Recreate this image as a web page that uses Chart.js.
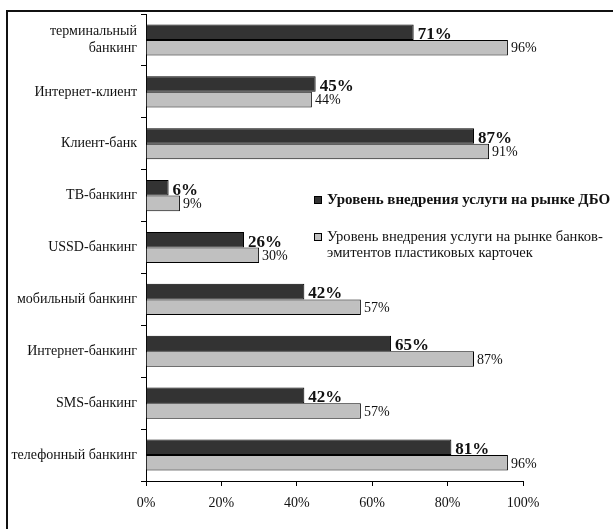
<!DOCTYPE html>
<html>
<head>
<meta charset="utf-8">
<script src="https://cdn.jsdelivr.net/npm/chart.js@4"></script>
<style>
    html, body { margin: 0; padding: 0; background: #fff; overflow: hidden; }
    #wrap { position: relative; width: 613px; height: 529px; }
    #frame { position: absolute; left: 6px; top: 10px; width: 700px; height: 600px;
             border-left: 2px solid #111; border-top: 2px solid #111; }
    #myChart { position: absolute; left: 0; top: 0; }
</style>
</head>
<body>
<div id="wrap">
    <div id="frame"></div>
    <canvas id="myChart" width="613" height="529"></canvas>
</div>
<script>
const categories = [
    ['терминальный', 'банкинг'],
    'Интернет-клиент',
    'Клиент-банк',
    'ТВ-банкинг',
    'USSD-банкинг',
    'мобильный банкинг',
    'Интернет-банкинг',
    'SMS-банкинг',
    'телефонный банкинг'
];
const dboValues = [71, 45, 87, 6, 26, 42, 65, 42, 81];
const cardBankValues = [96, 44, 91, 9, 30, 57, 87, 57, 96];
const seriesNames = [
    ['Уровень внедрения услуги на рынке ДБО'],
    ['Уровень внедрения услуги на рынке банков-', 'эмитентов пластиковых карточек']
];
const xTicks = [0, 20, 40, 60, 80, 100];

const serif = "'Liberation Serif', 'Times New Roman', serif";
const darkColor = '#333333';
const lightColor = '#c0c0c0';

// value labels next to the bars
const barLabels = {
    id: 'barLabels',
    afterDatasetsDraw(chart) {
        const ctx = chart.ctx;
        ctx.save();
        ctx.fillStyle = '#111';
        ctx.textAlign = 'left';
        chart.data.datasets.forEach((ds, i) => {
            const meta = chart.getDatasetMeta(i);
            meta.data.forEach((bar, j) => {
                const text = ds.data[j] + '%';
                if (i === 0) {
                    ctx.font = 'bold 17px ' + serif;
                    ctx.textBaseline = 'alphabetic';
                    ctx.fillText(text, bar.x + 4, bar.y + bar.height / 2 - 1);
                } else {
                    ctx.font = '14px ' + serif;
                    ctx.textBaseline = 'middle';
                    ctx.fillText(text, bar.x + 3, bar.y + 1);
                }
            });
        });
        ctx.restore();
    }
};

// legend sitting inside the plot
const innerLegend = {
    id: 'innerLegend',
    afterDraw(chart) {
        const ctx = chart.ctx;
        const x = 314, rows = [200, 237];
        ctx.save();
        chart.data.datasets.forEach((ds, i) => {
            const y = rows[i];
            ctx.fillStyle = ds.backgroundColor;
            ctx.fillRect(x, y - 4, 8, 8);
            ctx.strokeStyle = '#000';
            ctx.lineWidth = 1;
            ctx.strokeRect(x + 0.5, y - 3.5, 7, 7);
            ctx.fillStyle = '#111';
            ctx.font = (i === 0 ? 'bold 15px ' : '14.6px ') + serif;
            ctx.textBaseline = 'middle';
            ctx.textAlign = 'left';
            seriesNames[i].forEach((line, k) => {
                ctx.fillText(line, x + 13, y + k * 16);
            });
        });
        ctx.restore();
    }
};

const config = {
    type: 'bar',
    data: {
        labels: categories,
        datasets: [{
            label: seriesNames[0].join(' '),
            data: dboValues,
            backgroundColor: darkColor,
            borderColor: '#000',
            borderWidth: 1,
            categoryPercentage: 0.6,
            barPercentage: 1
        }, {
            label: seriesNames[1].join(''),
            data: cardBankValues,
            backgroundColor: lightColor,
            borderColor: '#000',
            borderWidth: 1,
            categoryPercentage: 0.6,
            barPercentage: 1
        }]
    },
    options: {
        indexAxis: 'y',
        responsive: false,
        animation: false,
        layout: {
            padding: { left: 0, right: 90, top: 14, bottom: 0 }
        },
        scales: {
            x: {
                min: 0,
                max: 100,
                afterFit: s => { s.height = 48; },
                afterBuildTicks: s => { s.ticks = xTicks.map(v => ({ value: v })); },
                grid: {
                    drawOnChartArea: false,
                    drawTicks: true,
                    tickLength: 5,
                    color: '#000'
                },
                border: { display: true, color: '#000', width: 1 },
                ticks: {
                    padding: 9,
                    color: '#111',
                    font: { family: serif, size: 14 },
                    callback: v => v + '%'
                }
            },
            y: {
                afterFit: s => { s.width = 146; },
                grid: {
                    drawOnChartArea: false,
                    drawTicks: true,
                    tickLength: 5,
                    color: '#000'
                },
                border: { display: true, color: '#000', width: 1 },
                ticks: {
                    padding: 4,
                    color: '#111',
                    font: { family: serif, size: 14, lineHeight: 1.2 }
                }
            }
        },
        plugins: {
            legend: { display: false },
            tooltip: { enabled: false }
        }
    },
    plugins: [barLabels, innerLegend]
};

const myChart = new Chart(
    document.getElementById('myChart'),
    config
);
</script>
</body>
</html>
